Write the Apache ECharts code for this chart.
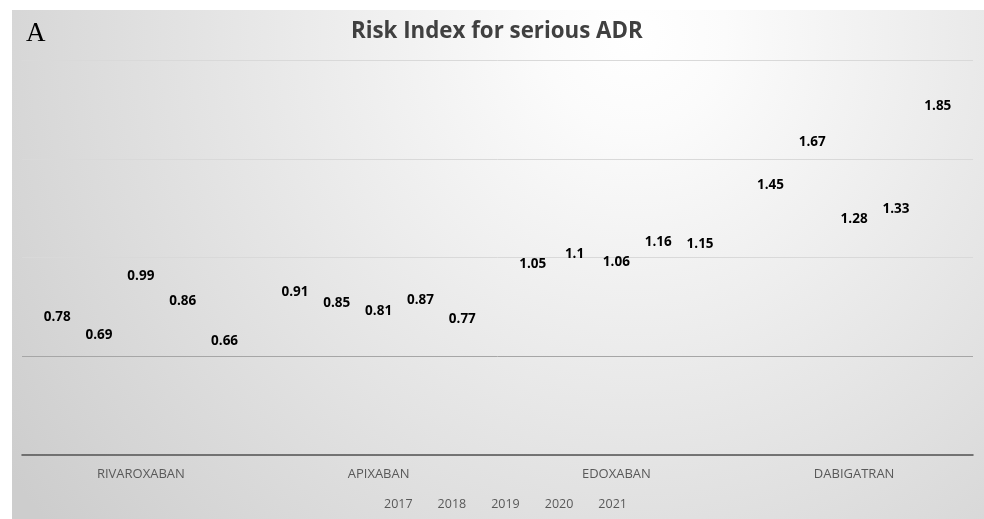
<!DOCTYPE html>
<html>
<head>
<meta charset="utf-8">
<script src="https://cdn.jsdelivr.net/npm/echarts@6/dist/echarts.min.js"></script>
<style>html,body{margin:0;padding:0;background:#fff;}#c{width:984px;height:519px;}</style>
</head>
<body>
<div id="c"></div>
<script>
const categories = ['RIVAROXABAN', 'APIXABAN', 'EDOXABAN', 'DABIGATRAN'];
const years = ['2017', '2018', '2019', '2020', '2021'];
const v2017 = [0.78, 0.91, 1.05, 1.45];
const v2018 = [0.69, 0.85, 1.10, 1.67];
const v2019 = [0.99, 0.81, 1.06, 1.28];
const v2020 = [0.86, 0.87, 1.16, 1.33];
const v2021 = [0.66, 0.77, 1.15, 1.85];
const seriesValues = [v2017, v2018, v2019, v2020, v2021];

const chart = echarts.init(document.getElementById('c'), null, {renderer: 'canvas'});
const font = '"Open Sans", sans-serif';

const series = years.map((y, i) => ({
  name: y,
  type: 'bar',
  data: seriesValues[i],
  barGap: '0%',
  barCategoryGap: '12%',
  itemStyle: {color: 'rgba(0,0,0,0)'},
  label: {
    show: true,
    position: 'insideTop',
    distance: 9.5,
    color: '#000',
    fontFamily: font,
    fontWeight: 'bold',
    fontSize: 13.5,
    formatter: p => String(p.value)
  }
}));

chart.setOption({
  animation: false,
  graphic: [
    {
      type: 'rect', z: -10, silent: true,
      shape: {x: 12, y: 10, width: 972, height: 509},
      style: {
        fill: new echarts.graphic.RadialGradient(0.64, 0.05, 1.5, [
          {offset: 0, color: '#ffffff'},
          {offset: 0.12, color: '#fbfbfb'},
          {offset: 1, color: '#cdcdcd'}
        ])
      }
    },
    {
      type: 'text', left: 26, top: 20,
      style: {text: 'A', font: '27px "Liberation Serif", serif', fill: '#000'}
    }
  ],
  title: {
    text: 'Risk Index for serious ADR',
    left: 346,
    top: 16,
    textStyle: {fontFamily: font, fontWeight: 'bold', fontSize: 22.3, color: '#404040'}
  },
  legend: {
    data: years,
    bottom: 3,
    left: 364,
    icon: 'rect',
    itemWidth: 10,
    itemHeight: 8,
    itemGap: 10,
    textStyle: {fontFamily: font, fontSize: 12.5, color: '#595959'}
  },
  grid: {left: 22, right: 11, top: 60, bottom: 64, containLabel: false},
  xAxis: {
    type: 'category',
    data: categories,
    axisLine: {show: true, lineStyle: {color: '#505050', width: 1.5}},
    axisTick: {show: false},
    axisLabel: {fontFamily: font, fontSize: 13, color: '#595959', margin: 13}
  },
  yAxis: {
    type: 'value',
    min: 0,
    max: 2,
    interval: 0.5,
    axisLine: {show: false},
    axisTick: {show: false},
    axisLabel: {show: false},
    splitLine: {show: true, lineStyle: {color: ['#d9d9d9', '#a6a6a6', '#d9d9d9', '#d9d9d9', '#d9d9d9'], width: 1}}
  },
  series: series
});
</script>
</body>
</html>
